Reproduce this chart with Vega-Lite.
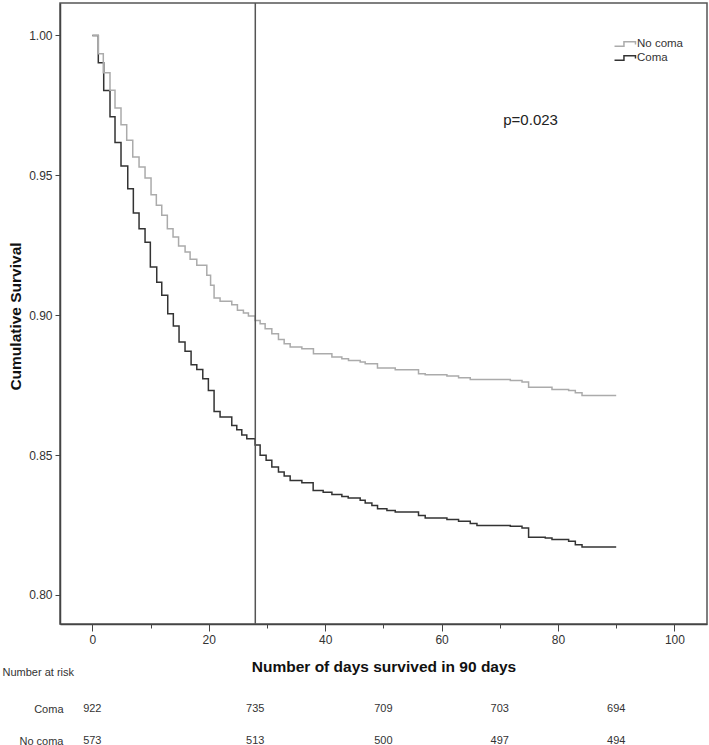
{
  "$schema": "https://vega.github.io/schema/vega-lite/v6.json",
  "padding": {"left": 2, "top": 1, "right": 3, "bottom": 0},
  "bounds": "flush",
  "spacing": 85,
  "config": {
    "font": "Liberation Sans",
    "axis": {"labelColor": "#333333", "titleColor": "#111111", "domainColor": "#444444", "tickColor": "#444444", "grid": false}
  },
  "datasets": {
    "curves": [
      {"group": "Coma", "t": 0, "s": 1.0},
      {"group": "Coma", "t": 1.03, "s": 0.9902},
      {"group": "Coma", "t": 1.96, "s": 0.9803},
      {"group": "Coma", "t": 3.04, "s": 0.9709},
      {"group": "Coma", "t": 3.9, "s": 0.9617},
      {"group": "Coma", "t": 4.93, "s": 0.9533},
      {"group": "Coma", "t": 6.09, "s": 0.9452},
      {"group": "Coma", "t": 7.05, "s": 0.9365},
      {"group": "Coma", "t": 8.03, "s": 0.9309},
      {"group": "Coma", "t": 9.06, "s": 0.9261},
      {"group": "Coma", "t": 9.97, "s": 0.9172},
      {"group": "Coma", "t": 11.07, "s": 0.9118},
      {"group": "Coma", "t": 11.93, "s": 0.9071},
      {"group": "Coma", "t": 12.96, "s": 0.9005},
      {"group": "Coma", "t": 13.92, "s": 0.8961},
      {"group": "Coma", "t": 14.9, "s": 0.8904},
      {"group": "Coma", "t": 15.93, "s": 0.8871},
      {"group": "Coma", "t": 16.97, "s": 0.8823},
      {"group": "Coma", "t": 17.95, "s": 0.8806},
      {"group": "Coma", "t": 18.98, "s": 0.8773},
      {"group": "Coma", "t": 19.94, "s": 0.8731},
      {"group": "Coma", "t": 20.92, "s": 0.8656},
      {"group": "Coma", "t": 21.95, "s": 0.8636},
      {"group": "Coma", "t": 23.96, "s": 0.8606},
      {"group": "Coma", "t": 24.82, "s": 0.859},
      {"group": "Coma", "t": 25.68, "s": 0.8572},
      {"group": "Coma", "t": 26.54, "s": 0.8558},
      {"group": "Coma", "t": 27.97, "s": 0.8536},
      {"group": "Coma", "t": 28.83, "s": 0.8499},
      {"group": "Coma", "t": 29.86, "s": 0.8481},
      {"group": "Coma", "t": 30.84, "s": 0.8457},
      {"group": "Coma", "t": 31.98, "s": 0.8439},
      {"group": "Coma", "t": 32.96, "s": 0.8425},
      {"group": "Coma", "t": 33.99, "s": 0.8409},
      {"group": "Coma", "t": 36.0, "s": 0.8401},
      {"group": "Coma", "t": 37.94, "s": 0.8373},
      {"group": "Coma", "t": 39.66, "s": 0.8367},
      {"group": "Coma", "t": 41.16, "s": 0.8359},
      {"group": "Coma", "t": 42.87, "s": 0.8352},
      {"group": "Coma", "t": 43.96, "s": 0.8346},
      {"group": "Coma", "t": 46.02, "s": 0.8338},
      {"group": "Coma", "t": 46.88, "s": 0.8329},
      {"group": "Coma", "t": 48.03, "s": 0.832},
      {"group": "Coma", "t": 49.0, "s": 0.8308},
      {"group": "Coma", "t": 50.61, "s": 0.8302},
      {"group": "Coma", "t": 52.04, "s": 0.8296},
      {"group": "Coma", "t": 56.04, "s": 0.8284},
      {"group": "Coma", "t": 57.19, "s": 0.8275},
      {"group": "Coma", "t": 60.92, "s": 0.827},
      {"group": "Coma", "t": 62.92, "s": 0.8263},
      {"group": "Coma", "t": 64.93, "s": 0.8255},
      {"group": "Coma", "t": 66.08, "s": 0.8248},
      {"group": "Coma", "t": 71.81, "s": 0.8245},
      {"group": "Coma", "t": 73.82, "s": 0.8239},
      {"group": "Coma", "t": 74.95, "s": 0.8206},
      {"group": "Coma", "t": 77.82, "s": 0.8203},
      {"group": "Coma", "t": 78.97, "s": 0.8198},
      {"group": "Coma", "t": 81.83, "s": 0.8192},
      {"group": "Coma", "t": 82.98, "s": 0.8179},
      {"group": "Coma", "t": 84.13, "s": 0.8171},
      {"group": "Coma", "t": 90, "s": 0.8171},
      {"group": "No coma", "t": 0, "s": 1.0},
      {"group": "No coma", "t": 1.03, "s": 0.99349},
      {"group": "No coma", "t": 1.89, "s": 0.9867},
      {"group": "No coma", "t": 3.04, "s": 0.9804},
      {"group": "No coma", "t": 3.9, "s": 0.97407},
      {"group": "No coma", "t": 4.93, "s": 0.9681},
      {"group": "No coma", "t": 5.91, "s": 0.96252},
      {"group": "No coma", "t": 6.95, "s": 0.95654},
      {"group": "No coma", "t": 8.03, "s": 0.95297},
      {"group": "No coma", "t": 9.06, "s": 0.94903},
      {"group": "No coma", "t": 10.09, "s": 0.94306},
      {"group": "No coma", "t": 11.0, "s": 0.93927},
      {"group": "No coma", "t": 11.93, "s": 0.93569},
      {"group": "No coma", "t": 12.89, "s": 0.9309},
      {"group": "No coma", "t": 13.87, "s": 0.92793},
      {"group": "No coma", "t": 14.82, "s": 0.92471},
      {"group": "No coma", "t": 15.94, "s": 0.92257},
      {"group": "No coma", "t": 16.8, "s": 0.91996},
      {"group": "No coma", "t": 17.95, "s": 0.91781},
      {"group": "No coma", "t": 19.67, "s": 0.91423},
      {"group": "No coma", "t": 20.32, "s": 0.91066},
      {"group": "No coma", "t": 20.92, "s": 0.90612},
      {"group": "No coma", "t": 21.95, "s": 0.90494},
      {"group": "No coma", "t": 23.96, "s": 0.90372},
      {"group": "No coma", "t": 24.93, "s": 0.90172},
      {"group": "No coma", "t": 25.96, "s": 0.90075},
      {"group": "No coma", "t": 26.82, "s": 0.89968},
      {"group": "No coma", "t": 27.97, "s": 0.89814},
      {"group": "No coma", "t": 28.83, "s": 0.89692},
      {"group": "No coma", "t": 29.69, "s": 0.89514},
      {"group": "No coma", "t": 30.84, "s": 0.89335},
      {"group": "No coma", "t": 31.98, "s": 0.89134},
      {"group": "No coma", "t": 32.96, "s": 0.88977},
      {"group": "No coma", "t": 33.99, "s": 0.88859},
      {"group": "No coma", "t": 36.0, "s": 0.88798},
      {"group": "No coma", "t": 37.99, "s": 0.8862},
      {"group": "No coma", "t": 41.16, "s": 0.88502},
      {"group": "No coma", "t": 42.87, "s": 0.88441},
      {"group": "No coma", "t": 44.01, "s": 0.88383},
      {"group": "No coma", "t": 46.02, "s": 0.88323},
      {"group": "No coma", "t": 46.88, "s": 0.88262},
      {"group": "No coma", "t": 48.99, "s": 0.88108},
      {"group": "No coma", "t": 52.04, "s": 0.88047},
      {"group": "No coma", "t": 56.04, "s": 0.87904},
      {"group": "No coma", "t": 57.19, "s": 0.87869},
      {"group": "No coma", "t": 60.92, "s": 0.87822},
      {"group": "No coma", "t": 62.92, "s": 0.87761},
      {"group": "No coma", "t": 64.93, "s": 0.87704},
      {"group": "No coma", "t": 71.81, "s": 0.87668},
      {"group": "No coma", "t": 73.82, "s": 0.87607},
      {"group": "No coma", "t": 74.95, "s": 0.87428},
      {"group": "No coma", "t": 78.97, "s": 0.87346},
      {"group": "No coma", "t": 81.83, "s": 0.8731},
      {"group": "No coma", "t": 82.98, "s": 0.87225},
      {"group": "No coma", "t": 84.13, "s": 0.87132},
      {"group": "No coma", "t": 90, "s": 0.87132}
    ],
    "risk": [
      {"group": "Coma", "t": 0, "n": 922},
      {"group": "Coma", "t": 28, "n": 735},
      {"group": "Coma", "t": 50, "n": 709},
      {"group": "Coma", "t": 70, "n": 703},
      {"group": "Coma", "t": 90, "n": 694},
      {"group": "No coma", "t": 0, "n": 573},
      {"group": "No coma", "t": 28, "n": 513},
      {"group": "No coma", "t": 50, "n": 500},
      {"group": "No coma", "t": 70, "n": 497},
      {"group": "No coma", "t": 90, "n": 494}
    ]
  },
  "vconcat": [
    {
      "width": 647,
      "height": 621,
      "view": {"stroke": "#555555", "strokeWidth": 1.5},
      "layer": [
        {
          "data": {"name": "curves"},
          "mark": {"type": "line", "interpolate": "step-after", "strokeWidth": 1.5},
          "encoding": {
            "x": {
              "field": "t", "type": "quantitative",
              "scale": {"domain": [-5.55, 105.6], "nice": false, "zero": false},
              "axis": {
                "title": "Number of days survived in 90 days",
                "values": [0, 10, 20, 30, 40, 50, 60, 70, 80, 90, 100],
                "labelExpr": "datum.value % 20 === 0 ? datum.label : ''",
                "tickSize": {"condition": {"test": "datum.value % 20 === 0", "value": 7}, "value": 4},
                "labelPadding": 3,
                "labelFontSize": 12,
                "labelFlush": false,
                "labelOverlap": false,
                "titleFontSize": 15.5,
                "titleFontWeight": "bold",
                "titleBaseline": "middle",
                "titleY": 42,
                "domainWidth": 1.5
              }
            },
            "y": {
              "field": "s", "type": "quantitative",
              "scale": {"domain": [0.7896, 1.0116], "nice": false, "zero": false},
              "axis": {
                "title": "Cumulative Survival",
                "values": [0.8, 0.85, 0.9, 0.95, 1.0],
                "format": ".2f",
                "tickSize": 5,
                "labelPadding": 3,
                "labelFontSize": 12,
                "titleFontSize": 15.5,
                "titleFontWeight": "bold",
                "titleBaseline": "alphabetic",
                "titleX": -39.5,
                "titleY": 313,
                "domainWidth": 1.5
              }
            },
            "color": {
              "field": "group", "type": "nominal",
              "scale": {"domain": ["No coma", "Coma"], "range": ["#ababab", "#333333"]},
              "legend": {
                "title": null,
                "orient": "none",
                "legendX": 559,
                "legendY": 35,
                "symbolType": "M-2,0.45L-0.2,0.45L-0.2,-0.45L2,-0.45L2,0.1",
                "symbolSize": 110,
                "symbolStrokeWidth": 1.5,
                "symbolFillColor": "transparent",
                "labelFontSize": 11.5,
                "labelColor": "#333333",
                "labelOffset": 6,
                "rowPadding": 2
              }
            }
          }
        },
        {
          "data": {"values": [{"t": 28}]},
          "mark": {"type": "rule", "color": "#555555", "strokeWidth": 1.5},
          "encoding": {"x": {"field": "t", "type": "quantitative"}}
        },
        {
          "data": {"values": [{"t": 70.6, "s": 0.9697, "label": "p=0.023"}]},
          "mark": {"type": "text", "align": "left", "baseline": "middle", "fontSize": 15, "color": "#222222"},
          "encoding": {
            "x": {"field": "t", "type": "quantitative"},
            "y": {"field": "s", "type": "quantitative"},
            "text": {"field": "label"}
          }
        }
      ]
    },
    {
      "width": 647,
      "height": 32,
      "view": {"stroke": null},
      "data": {"name": "risk"},
      "mark": {"type": "text", "fontSize": 11, "color": "#333333", "align": "center", "baseline": "middle"},
      "encoding": {
        "x": {
          "field": "t", "type": "quantitative",
          "scale": {"domain": [-5.55, 105.6], "nice": false, "zero": false},
          "axis": null
        },
        "y": {
          "field": "group", "type": "nominal",
          "scale": {"type": "point", "padding": 0, "domain": ["Coma", "No coma"]},
          "axis": {
            "title": "Number at risk",
            "titleAngle": 0,
            "titleAlign": "left",
            "titleBaseline": "middle",
            "titleX": -58,
            "titleY": -37,
            "titleFontSize": 11,
            "titleFontWeight": "normal",
            "titleColor": "#333333",
            "labelFontSize": 11,
            "labelColor": "#333333",
            "ticks": false,
            "domain": false,
            "labelPadding": -3
          }
        },
        "text": {"field": "n", "type": "nominal"}
      }
    }
  ]
}
